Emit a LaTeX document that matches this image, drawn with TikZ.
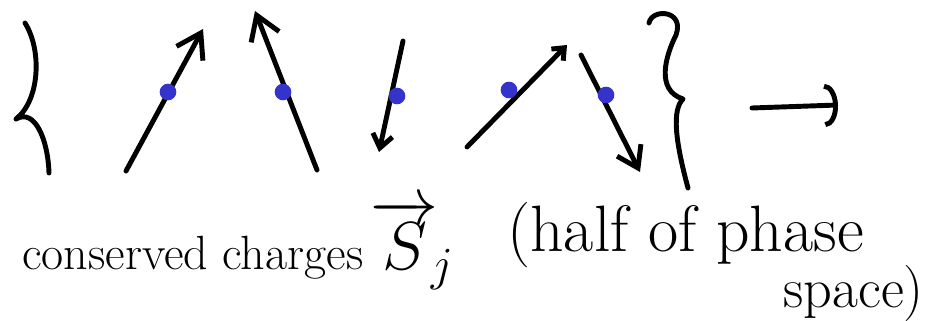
\RequirePackage{fix-cm}
\documentclass[tikz,border=0pt]{standalone}
\usetikzlibrary{arrows.meta,positioning}
\definecolor{inkblack}{RGB}{0,0,0}
\definecolor{inkblue}{RGB}{52,52,204}
\tikzset{
    ink/.style={
        draw=inkblack,line width=4.2pt,line cap=round,line join=round
    },
    spin/.style={
        ink,-{Straight Barb[length=#1,width=#1+2mm]}
    },
    spin/.default=7mm,
    blob/.style={
        circle,fill=inkblue,inner sep=0pt,minimum size=0.5cm
    },
    scribble/.style={
        inner sep=0pt,text=inkblack,font=\fontsize{#1}{#1}\selectfont
    },
    scribble/.default=41
}
\begin{document}
\begin{tikzpicture}[x=0.03cm,y=-0.03cm]
\useasboundingbox (0,0) rectangle (928,321);

% braces round the spin states
\draw[ink] (25,23) .. controls (42,50) and (40,100) .. (16,119)
    .. controls (35,108) and (48,140) .. (49,173);
\draw[ink] (649,23) .. controls (652,8) and (685,10) .. (676,35)
    .. controls (666,55) and (655,90) .. (683,99)
    .. controls (672,110) and (675,140) .. (688,188);

% spins
\coordinate (s1a) at (126,171);
\coordinate (s1b) at (203,29);
\coordinate (s2a) at (317,170);
\coordinate (s2b) at (255,11);
\coordinate (s3a) at (403,41);
\coordinate (s3b) at (379,152);
\coordinate (s4a) at (467,147);
\coordinate (s4b) at (567,45);
\coordinate (s5a) at (581,55);
\coordinate (s5b) at (640,172);
\draw[spin] (s1a) -- (s1b);
\draw[spin] (s2a) -- (s2b);
\draw[spin=4mm] (s3a) -- (s3b);
\draw[spin=3mm] (s4a) -- (s4b);
\draw[spin=6mm] (s5a) -- (s5b);
\node[blob] (b1) at (168,92) {};
\node[blob] (b2) at (283,92) {};
\node[blob] (b3) at (397,96) {};
\node[blob] (b4) at (509,90) {};
\node[blob] (b5) at (606,95) {};

% maps to
\coordinate (mapa) at (752,108);
\coordinate (mapb) at (838,105);
\draw[ink,-{Arc Barb[length=4mm,width=13mm]}] (mapa) -- (mapb);

\node[scribble,anchor=base west] (charges) at (22,270) {conserved charges};
\node[scribble=58,base right=6pt of charges] (spinvec) {$\overrightarrow{S}_{\!j}$};
\node[scribble=56,anchor=base west] (half) at (507,252) {(half of phase};
\node[scribble=48,anchor=base east] (space) at (924,308) {space)};

\end{tikzpicture}
\end{document}
